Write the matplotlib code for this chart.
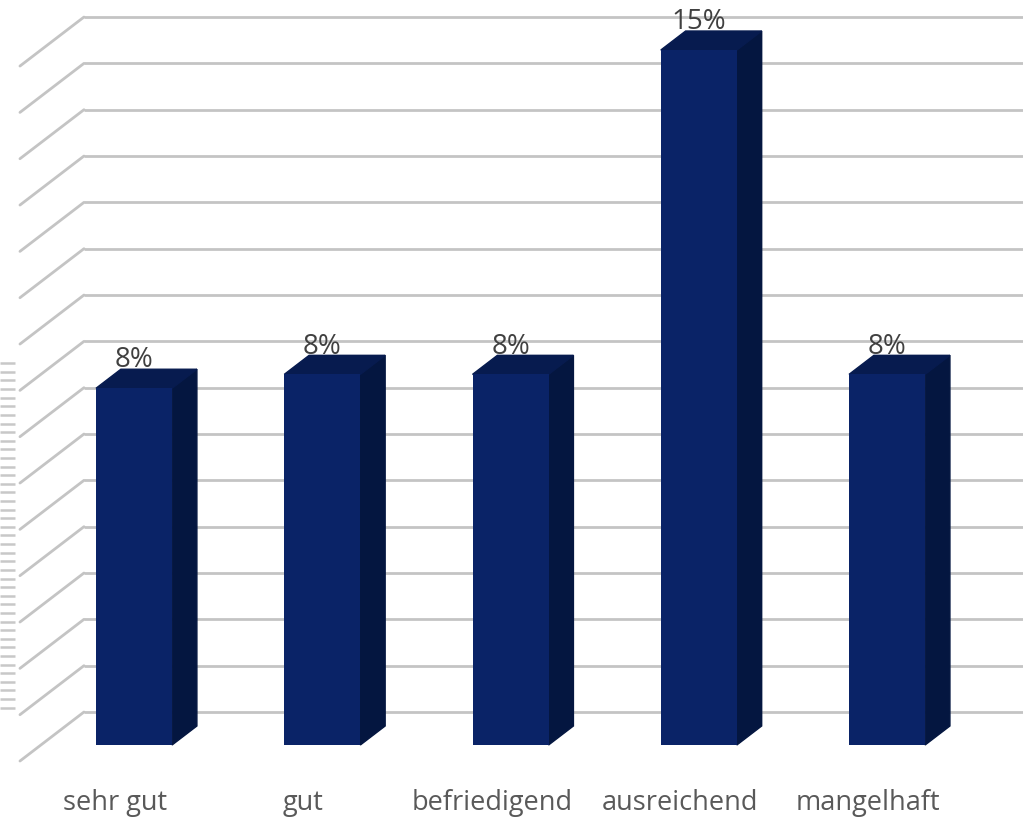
import numpy as np
import matplotlib
matplotlib.use("Agg")
import matplotlib.pyplot as plt
from matplotlib.patches import Polygon

categories = ["sehr gut", "gut", "befriedigend", "ausreichend", "mangelhaft"]
values = [7.7, 8.0, 8.0, 15.0, 8.0]
value_labels = ["8%", "8%", "8%", "15%", "8%"]
grid_levels = list(range(0, 16))

FRONT = "#0a2367"
SIDE = "#041640"
TOP = "#071b4f"
GRID = "#c4c4c4"

fig = plt.figure(figsize=(10.23, 8.17), dpi=100)
ax = fig.add_axes([0, 0, 1, 1])
ax.set_xlim(-0.712, 4.722)
ax.set_ylim(-1.554, 16.08)
ax.axis("off")

# oblique depth projection (full depth span in data units)
DX, DY = 0.340, 1.058
BAR_FRONT, BAR_BACK = 0.327, 0.715


def off(t):
    return ((t - BAR_FRONT) * DX, (t - BAR_FRONT) * DY)


wall_left = -0.266
wx, wy = off(1.0)
fx, fy = off(0.0)
for k in grid_levels:
    ax.plot([wall_left, 4.722], [k + wy, k + wy], color=GRID, lw=2.0,
            solid_capstyle="butt", zorder=1)
    ax.plot([wall_left - DX, wall_left], [k + fy, k + wy], color=GRID, lw=2.0,
            solid_capstyle="round", zorder=1)

# small dashes at left edge
ax.hlines(np.linspace(0.805, 8.24, 41), -0.712, -0.632, color="#c8c8c8",
          lw=1.8, zorder=1)

x = np.arange(len(categories))
w = 0.404
bdx, bdy = off(BAR_BACK)
ax.bar(x, values, width=w, color=FRONT, zorder=4)
for xi, v in zip(x, values):
    r = xi + w / 2
    l = xi - w / 2
    ax.add_patch(Polygon([(r, 0), (r + bdx, bdy), (r + bdx, v + bdy), (r, v)],
                         closed=True, color=SIDE, zorder=3))
    ax.add_patch(Polygon([(l, v), (r, v), (r + bdx, v + bdy), (l + bdx, v + bdy)],
                         closed=True, color=TOP, zorder=3))

for xi, v, lab in zip(x, values, value_labels):
    ax.text(xi, v + 0.45, lab, ha="center", va="baseline", fontsize=20,
            family="Open Sans", color="#404040", zorder=5)

for xi, c in zip(x, categories):
    ax.text(xi - 0.1, -1.40, c, ha="center", va="baseline", fontsize=19.5,
            family="Open Sans", color="#595959", zorder=5)

fig.savefig("out.png", dpi=100)
